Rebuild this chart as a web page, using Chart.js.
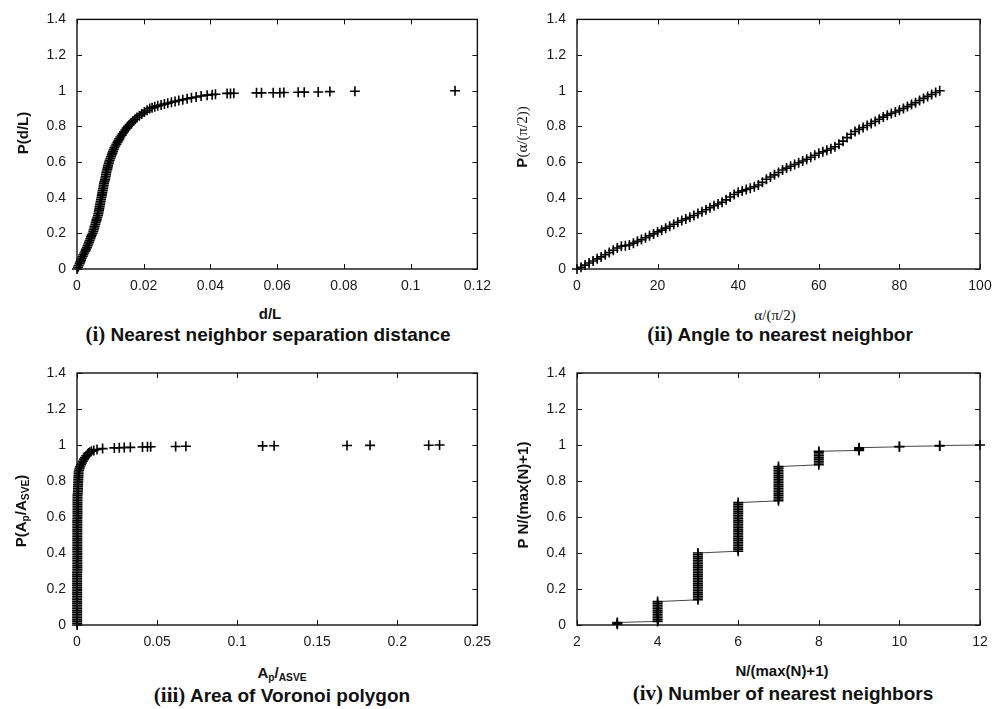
<!DOCTYPE html>
<html>
<head>
<meta charset="utf-8">
<title>Particle neighborhood statistics</title>
<script src="https://cdn.jsdelivr.net/npm/chart.js@4.4.1/dist/chart.umd.min.js"></script>
<style>
  body { margin: 0; background: #fff; width: 1008px; height: 709px; position: relative; overflow: hidden;
         font-family: "Liberation Sans", Arial, sans-serif; color: #111; }
  canvas { position: absolute; }
  .lbl { position: absolute; transform: translate(-50%, -50%); white-space: nowrap; font-weight: bold; font-size: 15px; line-height: 1; }
  .ylbl { transform: translate(-50%, -50%) rotate(-90deg); }
  .serif { font-family: "Liberation Serif", "Times New Roman", serif; font-weight: normal; }
  .cap { font-size: 19px; }
  .cap .num { font-family: "Liberation Serif", "Times New Roman", serif; font-size: 21px; }
  sub { font-size: 68%; vertical-align: -0.3em; line-height: 0; }
</style>
</head>
<body>
<canvas id="sepChart" width="500" height="300" style="left:0;top:0"></canvas>
<canvas id="angleChart" width="508" height="300" style="left:500px;top:0"></canvas>
<canvas id="areaChart" width="500" height="300" style="left:0;top:350px"></canvas>
<canvas id="nbrChart" width="508" height="300" style="left:500px;top:350px"></canvas>

<div class="lbl ylbl" style="left:22px;top:133px">P(d/L)</div>
<div class="lbl" style="left:270px;top:313px">d/L</div>
<div class="lbl cap" style="left:268px;top:334px"><span class="num">(i)</span> Nearest neighbor separation distance</div>

<div class="lbl ylbl" style="left:522px;top:137px">P<span class="serif">(α/(π/2))</span></div>
<div class="lbl serif" style="left:775px;top:315px">α/(π/2)</div>
<div class="lbl cap" style="left:780px;top:334px"><span class="num">(ii)</span> Angle to nearest neighbor</div>

<div class="lbl ylbl" style="left:20px;top:511px">P(A<sub>p</sub>/A<sub>SVE</sub>)</div>
<div class="lbl" style="left:282px;top:672px">A<sub>p</sub>/<sub>ASVE</sub></div>
<div class="lbl cap" style="left:282px;top:695px"><span class="num">(iii)</span> Area of Voronoi polygon</div>

<div class="lbl ylbl" style="left:522px;top:495px">P N/(max(N)+1)</div>
<div class="lbl" style="left:782px;top:670px">N/(max(N)+1)</div>
<div class="lbl cap" style="left:783px;top:693px"><span class="num">(iv)</span> Number of nearest neighbors</div>

<script>
// nearest neighbour separation d/L vs cumulative probability
const sepPts = [
  [0.0000,0.00],[0.0003,0.01],[0.0005,0.02],[0.0008,0.03],[0.0010,0.04],[0.0012,0.05],[0.0014,0.06],[0.0017,0.07],[0.0019,0.08],[0.0022,0.09],
  [0.0025,0.10],[0.0027,0.11],[0.0030,0.12],[0.0032,0.13],[0.0034,0.14],[0.0036,0.15],[0.0038,0.16],[0.0040,0.17],[0.0042,0.18],[0.0044,0.19],
  [0.0047,0.20],[0.0049,0.21],[0.0050,0.22],[0.0052,0.23],[0.0053,0.24],[0.0055,0.25],[0.0056,0.26],[0.0058,0.27],[0.0059,0.28],[0.0061,0.29],
  [0.0063,0.30],[0.0064,0.31],[0.0065,0.32],[0.0066,0.33],[0.0067,0.34],[0.0068,0.35],[0.0069,0.36],[0.0070,0.37],[0.0071,0.38],[0.0072,0.39],
  [0.0073,0.40],[0.0074,0.41],[0.0075,0.42],[0.0076,0.43],[0.0077,0.44],[0.0078,0.45],[0.0079,0.46],[0.0080,0.47],[0.0081,0.48],[0.0082,0.49],
  [0.0084,0.50],[0.0085,0.51],[0.0086,0.52],[0.0087,0.53],[0.0088,0.54],[0.0089,0.55],[0.0091,0.56],[0.0092,0.57],[0.0093,0.58],[0.0095,0.59],
  [0.0096,0.60],[0.0098,0.61],[0.0100,0.62],[0.0102,0.63],[0.0104,0.64],[0.0106,0.65],[0.0108,0.66],[0.0110,0.67],[0.0112,0.68],[0.0115,0.69],
  [0.0118,0.70],[0.0121,0.71],[0.0124,0.72],[0.0127,0.73],[0.0130,0.74],[0.0134,0.75],[0.0137,0.76],[0.0141,0.77],[0.0145,0.78],[0.0149,0.79],
  [0.0153,0.80],[0.0158,0.81],[0.0163,0.82],[0.0168,0.83],[0.0174,0.84],[0.0180,0.85],[0.0187,0.86],[0.0194,0.87],[0.0202,0.88],[0.0210,0.89],
  [0.0218,0.900],[0.0225,0.905],[0.0233,0.910],[0.0242,0.915],[0.0252,0.920],[0.0262,0.925],[0.0272,0.930],[0.0283,0.935],[0.0294,0.940],
  [0.0305,0.945],[0.0317,0.950],[0.0330,0.955],[0.0343,0.960],[0.0357,0.965],[0.0372,0.970],[0.0390,0.975],[0.0405,0.978],[0.0415,0.980],
  [0.0450,0.985],[0.0460,0.985],[0.0470,0.986],[0.0538,0.988],[0.0553,0.988],[0.0588,0.989],[0.0608,0.989],[0.0620,0.990],
  [0.0663,0.991],[0.0681,0.992],[0.0723,0.993],[0.0758,0.995],[0.0833,0.997],[0.1133,1.000]
];

// angle to nearest neighbour
const anglePts = [
  [0,0.000],[1,0.010],[2,0.022],[3,0.034],[4,0.045],[5,0.057],[6,0.068],[7,0.080],[8,0.092],[9,0.105],
  [10,0.118],[11,0.128],[12,0.131],[13,0.135],[14,0.145],[15,0.155],[16,0.165],[17,0.175],[18,0.186],[19,0.197],
  [20,0.208],[21,0.218],[22,0.229],[23,0.240],[24,0.251],[25,0.262],[26,0.272],[27,0.281],[28,0.290],[29,0.300],
  [30,0.311],[31,0.321],[32,0.332],[33,0.344],[34,0.355],[35,0.365],[36,0.374],[37,0.388],[38,0.404],[39,0.418],
  [40,0.430],[41,0.438],[42,0.446],[43,0.453],[44,0.461],[45,0.471],[46,0.486],[47,0.503],[48,0.516],[49,0.528],
  [50,0.541],[51,0.555],[52,0.566],[53,0.576],[54,0.586],[55,0.596],[56,0.606],[57,0.616],[58,0.627],[59,0.638],
  [60,0.649],[61,0.658],[62,0.666],[63,0.675],[64,0.686],[65,0.700],[66,0.717],[67,0.737],[68,0.756],[69,0.771],
  [70,0.783],[71,0.794],[72,0.805],[73,0.816],[74,0.828],[75,0.840],[76,0.852],[77,0.863],[78,0.872],[79,0.881],
  [80,0.890],[81,0.900],[82,0.911],[83,0.922],[84,0.933],[85,0.945],[86,0.957],[87,0.968],[88,0.979],[89,0.990],
  [90,1.000]
];

// Voronoi polygon area Ap/ASVE
const areaPts = [
  [0.0001,0.00],[0.0001,0.01],[0.0001,0.02],[0.0001,0.03],[0.0001,0.04],[0.0001,0.05],[0.0001,0.06],[0.0001,0.07],[0.0001,0.08],[0.0001,0.09],
  [0.0001,0.10],[0.0001,0.11],[0.0001,0.12],[0.0001,0.13],[0.0001,0.14],[0.0001,0.15],[0.0001,0.16],[0.0001,0.17],[0.0001,0.18],[0.0001,0.19],
  [0.0001,0.20],[0.0001,0.21],[0.0001,0.22],[0.0001,0.23],[0.0001,0.24],[0.0001,0.25],[0.0001,0.26],[0.0001,0.27],[0.0001,0.28],[0.0001,0.29],
  [0.0002,0.30],[0.0002,0.31],[0.0002,0.32],[0.0002,0.33],[0.0002,0.34],[0.0002,0.35],[0.0002,0.36],[0.0002,0.37],[0.0002,0.38],[0.0002,0.39],
  [0.0002,0.40],[0.0002,0.41],[0.0002,0.42],[0.0002,0.43],[0.0002,0.44],[0.0002,0.45],[0.0002,0.46],[0.0002,0.47],[0.0002,0.48],[0.0002,0.49],
  [0.0002,0.50],[0.0002,0.51],[0.0002,0.52],[0.0002,0.53],[0.0002,0.54],[0.0002,0.55],[0.0002,0.56],[0.0002,0.57],[0.0002,0.58],[0.0002,0.59],
  [0.0003,0.60],[0.0003,0.61],[0.0003,0.62],[0.0003,0.63],[0.0003,0.64],[0.0003,0.65],[0.0003,0.66],[0.0003,0.67],[0.0003,0.68],[0.0003,0.69],
  [0.0003,0.70],[0.0003,0.71],[0.0003,0.72],[0.0005,0.73],[0.0005,0.74],[0.0006,0.75],[0.0006,0.76],[0.0006,0.77],[0.0007,0.78],[0.0007,0.79],
  [0.0008,0.80],[0.0008,0.81],[0.0009,0.82],[0.0009,0.83],[0.0010,0.84],[0.0010,0.85],[0.0013,0.86],[0.0016,0.87],[0.0020,0.88],[0.0025,0.89],
  [0.0031,0.900],[0.0037,0.910],[0.0043,0.920],[0.0050,0.930],[0.0058,0.940],[0.0067,0.950],[0.0073,0.955],[0.0080,0.960],[0.0090,0.965],
  [0.0105,0.970],[0.0125,0.975],[0.0160,0.980],
  [0.0233,0.984],[0.0264,0.985],[0.0295,0.986],[0.0333,0.987],[0.0409,0.989],[0.0440,0.990],[0.0460,0.990],
  [0.0616,0.992],[0.0680,0.993],[0.1159,0.995],[0.1231,0.996],[0.1686,0.997],[0.1830,0.998],[0.2196,0.999],[0.2264,1.000]
];

// number of nearest neighbours N and the cumulative probabilities recorded at each N
const nbrCounts = [3, 4, 5, 6, 7, 8, 9, 10, 11, 12];
const nbrProbs = [
  [0.004, 0.009, 0.014],
  [0.02, 0.03, 0.04, 0.05, 0.06, 0.07, 0.08, 0.09, 0.10, 0.11, 0.12, 0.13],
  [0.14, 0.15, 0.16, 0.17, 0.18, 0.19, 0.20, 0.21, 0.22, 0.23, 0.24, 0.25, 0.26, 0.27,
   0.28, 0.29, 0.30, 0.31, 0.32, 0.33, 0.34, 0.35, 0.36, 0.37, 0.38, 0.39, 0.40],
  [0.41, 0.42, 0.43, 0.44, 0.45, 0.46, 0.47, 0.48, 0.49, 0.50, 0.51, 0.52, 0.53, 0.54,
   0.55, 0.56, 0.57, 0.58, 0.59, 0.60, 0.61, 0.62, 0.63, 0.64, 0.65, 0.66, 0.67, 0.68],
  [0.69, 0.70, 0.71, 0.72, 0.73, 0.74, 0.75, 0.76, 0.77, 0.78, 0.79, 0.80, 0.81, 0.82,
   0.83, 0.84, 0.85, 0.86, 0.87, 0.88],
  [0.89, 0.90, 0.91, 0.92, 0.93, 0.94, 0.95, 0.96, 0.965],
  [0.97, 0.975, 0.98, 0.985],
  [0.99, 0.992],
  [0.995, 0.997],
  [1.0]
];

const probTicks = [0, 0.2, 0.4, 0.6, 0.8, 1, 1.2, 1.4];

const tickFont = { family: '"Liberation Sans", Arial, sans-serif', size: 14 };
const fmt = v => String(+Number(v).toFixed(4));

// closed frame with short inward ticks on all four sides
const frameTicks = {
  id: 'frameTicks',
  afterDraw(chart) {
    const { ctx, chartArea: a, scales } = chart;
    ctx.save();
    ctx.strokeStyle = '#111';
    ctx.lineWidth = 1;
    ctx.beginPath();
    scales.x.ticks.forEach((t, i) => {
      const px = Math.round(scales.x.getPixelForTick(i)) + 0.5;
      ctx.moveTo(px, a.bottom); ctx.lineTo(px, a.bottom - 5);
      ctx.moveTo(px, a.top); ctx.lineTo(px, a.top + 5);
    });
    scales.y.ticks.forEach((t, i) => {
      const py = Math.round(scales.y.getPixelForTick(i)) + 0.5;
      ctx.moveTo(a.left, py); ctx.lineTo(a.left + 5, py);
      ctx.moveTo(a.right, py); ctx.lineTo(a.right - 5, py);
    });
    ctx.stroke();
    ctx.lineWidth = 1.4;
    ctx.strokeRect(a.left, a.top, a.right - a.left, a.bottom - a.top);
    ctx.restore();
  }
};

function makePanel(id, pts, xr, layout, withLine) {
  const canvas = document.getElementById(id);
  return new Chart(canvas, {
    type: 'scatter',
    data: {
      datasets: [{
        data: pts.map(([x, y]) => ({ x, y })),
        pointStyle: 'cross',
        pointRadius: 5,
        pointBorderColor: '#000',
        pointBorderWidth: 1.6,
        showLine: withLine,
        borderColor: '#444',
        borderWidth: 1,
        clip: false
      }]
    },
    options: {
      responsive: false,
      animation: false,
      events: [],
      layout: { padding: { top: layout.top, right: layout.right, left: 0, bottom: 0 } },
      plugins: { legend: { display: false }, tooltip: { enabled: false } },
      scales: {
        x: {
          type: 'linear', min: xr[0], max: xr[1],
          grid: { display: false, drawTicks: false }, border: { display: false },
          ticks: { stepSize: xr[2], font: tickFont, color: '#1a1a1a', padding: 9, maxRotation: 0, autoSkip: false, callback: fmt },
          afterFit: s => { s.height = layout.axisH; }
        },
        y: {
          type: 'linear', min: 0, max: 1.4,
          grid: { display: false, drawTicks: false }, border: { display: false },
          ticks: { font: tickFont, color: '#1a1a1a', padding: 11, autoSkip: false, callback: fmt },
          afterBuildTicks: s => { s.ticks = probTicks.map(v => ({ value: v })); },
          afterFit: s => { s.width = 77; }
        }
      }
    },
    plugins: [frameTicks]
  });
}

const nbrPts = nbrCounts.flatMap((n, i) => nbrProbs[i].map(p => [n, p]));

makePanel('sepChart', sepPts, [0, 0.12, 0.02], { top: 15, right: 19, axisH: 31 }, false);
makePanel('angleChart', anglePts, [0, 100, 20], { top: 15, right: 28, axisH: 31 }, false);
makePanel('areaChart', areaPts, [0, 0.25, 0.05], { top: 23, right: 19, axisH: 25 }, false);
makePanel('nbrChart', nbrPts, [2, 12, 2], { top: 23, right: 28, axisH: 25 }, true);
</script>
</body>
</html>
